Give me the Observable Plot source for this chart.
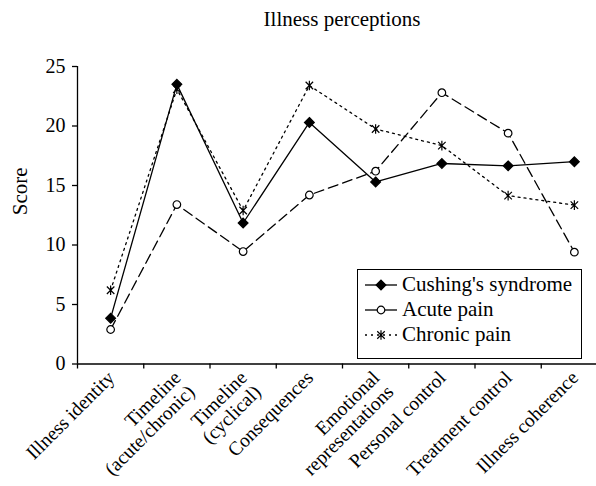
<!DOCTYPE html>
<html>
<head>
<meta charset="utf-8">
<script src="https://cdn.jsdelivr.net/npm/d3@7"></script>
<script src="https://cdn.jsdelivr.net/npm/@observablehq/plot@0.6"></script>
<style>
  html, body { margin: 0; padding: 0; background: #fff; overflow: hidden; }
  body { width: 596px; height: 486px; position: relative; font-family: "Liberation Serif", "Times New Roman", serif; }
  #title { height: 40px; box-sizing: border-box; padding-top: 9px; padding-left: 88px; text-align: center; font-size: 21px; line-height: 21px; color: #000; }
  #legend { position: absolute; left: 357px; top: 269px; width: 225px; height: 90px; border: 1px solid #000; background: #fff; box-sizing: border-box; padding-top: 2px; }
  .row { height: 25px; line-height: 25px; font-size: 21px; white-space: nowrap; display: flex; align-items: center; }
  .row svg { margin-left: 6px; margin-right: 4px; flex: none; }
</style>
</head>
<body>
<div id="title">Illness perceptions</div>
<div id="chart"></div>
<div id="legend"></div>
<script>
const categories = ["Illness identity", "Timeline\n(acute/chronic)", "Timeline\n(cyclical)", "Consequences", "Emotional\nrepresentations", "Personal control", "Treatment control", "Illness coherence"];
const seriesNames = ["Cushing's syndrome", "Acute pain", "Chronic pain"];
const cushing = [3.85, 23.5, 11.85, 20.3, 15.3, 16.85, 16.65, 17.0];
const acute = [2.9, 13.4, 9.45, 14.2, 16.2, 22.8, 19.4, 9.4];
const chronic = [6.2, 23.1, 12.9, 23.4, 19.75, 18.35, 14.15, 13.35];
const yTicks = [0, 5, 10, 15, 20, 25];

const asteriskX = {
  draw(context, size) {
    const r = Math.sqrt(size / Math.PI);
    const d = r * 0.78;
    context.moveTo(-d, -d); context.lineTo(d, d);
    context.moveTo(-d, d); context.lineTo(d, -d);
    context.moveTo(0, -r); context.lineTo(0, r);
  }
};

const styles = [
  {values: cushing, dash: null, symbol: "diamond2", fill: "#000", r: 4.4},
  {values: acute, dash: "10,5", symbol: "circle", fill: "#fff", r: 3.8},
  {values: chronic, dash: "2,4", symbol: asteriskX, fill: "none", r: 4.8}
];

const rows = [];
styles.forEach((s, si) => s.values.forEach((v, i) => rows.push({series: seriesNames[si], i, v})));
const idx = categories.map((c, i) => i);
const xDomain = [-0.5, categories.length - 0.5];
const boundaries = d3.range(xDomain[0], xDomain[1] + 1, 1);

const marks = [];
styles.forEach((s, si) => {
  const data = rows.filter(d => d.series === seriesNames[si]);
  marks.push(Plot.line(data, {x: "i", y: "v", stroke: "#000", strokeWidth: 1.3, strokeDasharray: s.dash}));
});
styles.forEach((s, si) => {
  const data = rows.filter(d => d.series === seriesNames[si]);
  marks.push(Plot.dot(data, {x: "i", y: "v", symbol: () => s.symbol, r: s.r, fill: s.fill, stroke: "#000", strokeWidth: 1.2}));
});

const chart = Plot.plot({
  width: 596,
  height: 446,
  marginTop: 26,
  marginBottom: 122.5,
  marginLeft: 77,
  marginRight: 0,
  style: {fontFamily: "Liberation Serif, Times New Roman, serif", fontSize: "20px", color: "#000", background: "#fff", overflow: "visible"},
  symbol: {type: "identity"},
  x: {type: "linear", domain: xDomain, range: [77, 607], axis: null},
  y: {type: "linear", domain: [0, 25], label: null, axis: null},
  marks: [
    Plot.ruleX([xDomain[0]], {y1: 0, y2: 25, stroke: "#000", strokeWidth: 1.3}),
    Plot.ruleY([0], {x1: xDomain[0], x2: xDomain[1], stroke: "#000", strokeWidth: 1.3}),
    Plot.axisY(yTicks, {ticks: yTicks, tickSize: 5, tickPadding: 7, fontSize: 20, label: null, stroke: "#000", strokeWidth: 1.3}),
    Plot.axisX(boundaries, {ticks: boundaries, tickSize: 5, tickFormat: () => "", label: null, stroke: "#000", strokeWidth: 1.3}),
    Plot.text(idx, {x: d => d, y: 0, text: d => categories[d], rotate: -45, textAnchor: "end", lineAnchor: "top", lineHeight: 1.02, dx: -5, dy: 5, fontSize: 19.5, fill: "#000"}),
    Plot.text(["Score"], {frameAnchor: "left", dx: -57, rotate: -90, text: d => d, fontSize: 21, fill: "#000"}),
    ...marks
  ]
});
document.getElementById("chart").appendChild(chart);

// legend
const legend = document.getElementById("legend");
styles.forEach((s, si) => {
  const row = document.createElement("div");
  row.className = "row";
  const svg = d3.create("svg").attr("width", 34).attr("height", 14);
  svg.append("line").attr("x1", 1).attr("x2", 33).attr("y1", 7).attr("y2", 7)
    .attr("stroke", "#000").attr("stroke-width", 1.3).attr("stroke-dasharray", si === 2 ? "2,4" : null);
  const sym = si === 0 ? d3.symbolDiamond2 : si === 1 ? d3.symbolCircle : asteriskX;
  svg.append("path").attr("transform", "translate(17,7)")
    .attr("d", d3.symbol(sym, Math.PI * s.r * s.r)())
    .attr("fill", s.fill).attr("stroke", "#000").attr("stroke-width", 1.2);
  row.appendChild(svg.node());
  const span = document.createElement("span");
  span.textContent = seriesNames[si];
  row.appendChild(span);
  legend.appendChild(row);
});
</script>
</body>
</html>
